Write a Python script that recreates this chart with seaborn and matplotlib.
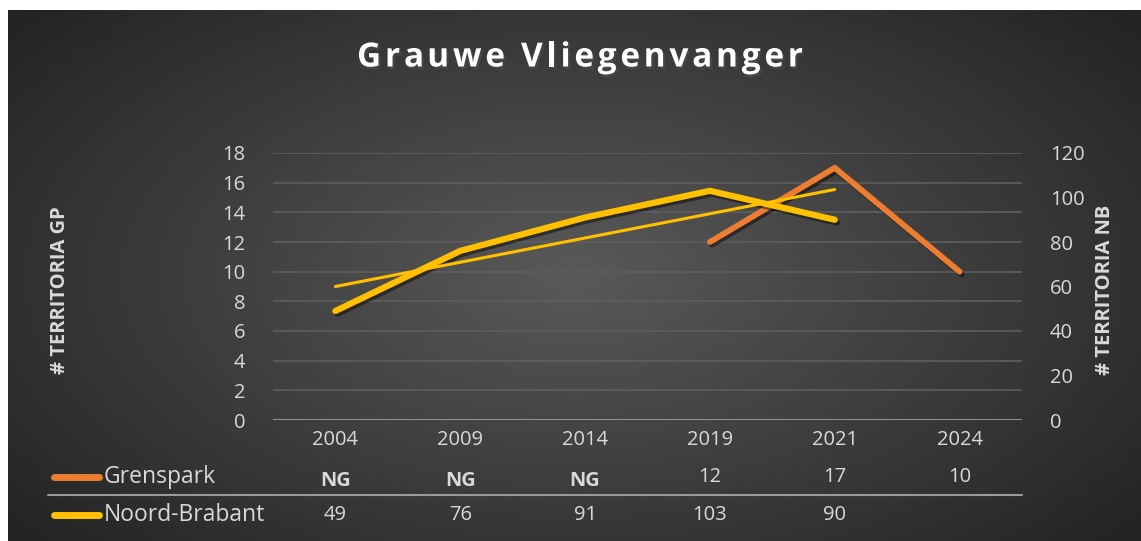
import numpy as np
import pandas as pd
import matplotlib
matplotlib.use("Agg")
import matplotlib.pyplot as plt
import matplotlib.patheffects as pe
import seaborn as sns

years = ["2004", "2009", "2014", "2019", "2021", "2024"]
grenspark = [np.nan, np.nan, np.nan, 12, 17, 10]
noord_brabant = [49, 76, 91, 103, 90, np.nan]
grenspark_table = ["NG", "NG", "NG", "12", "17", "10"]
nb_table = ["49", "76", "91", "103", "90", ""]

ORANGE = "#ED7D31"
YELLOW = "#FFC000"
TXT = "#d9d9d9"
FS = 14.5

sns.set_theme(style="dark")
plt.rcParams["font.family"] = ["Open Sans", "DejaVu Sans"]

W, H = 1141, 541
fig = plt.figure(figsize=(W / 100, H / 100), dpi=100)
fig.patch.set_facecolor("white")

# radial gradient background
bg = fig.add_axes([8 / W, 0, 1 - 8 / W, 1 - 10 / H])
bg.set_axis_off()
yy, xx = np.mgrid[-1:1:300j, -1:1:600j]
r = np.sqrt(xx ** 2 + (yy / 1.15) ** 2)
shade = 0.35 - 0.21 * np.clip(r, 0, 1.3) / 1.3
bg.imshow(np.dstack([shade] * 3), aspect="auto", extent=[0, 1, 0, 1],
          interpolation="bicubic")

df = pd.DataFrame({"x": np.arange(len(years)), "gp": grenspark, "nb": noord_brabant})

L, R, T, B = 273, 1022, 153, 420
ax = fig.add_axes([L / W, 1 - B / H, (R - L) / W, (B - T) / H])
ax.set_facecolor("none")
ax2 = ax.twinx()
ax2.set_facecolor("none")

shadow = [pe.SimpleLineShadow(offset=(1.5, -2), shadow_color="black", alpha=0.45),
          pe.Normal()]

sns.lineplot(data=df, x="x", y="gp", ax=ax, color=ORANGE, linewidth=4.2,
             solid_capstyle="round", path_effects=shadow, zorder=3)
sns.lineplot(data=df, x="x", y="nb", ax=ax2, color=YELLOW, linewidth=4.5,
             solid_capstyle="round", path_effects=shadow, zorder=4)

# linear trendline for Noord-Brabant
nb = df.dropna(subset=["nb"])
coef = np.polyfit(nb["x"], nb["nb"], 1)
tx = np.array([nb["x"].min(), nb["x"].max()])
ax2.plot(tx, np.polyval(coef, tx), color=YELLOW, linewidth=2.2,
         solid_capstyle="round", zorder=5)

ax.set_xlim(-0.5, len(years) - 0.5)
ax.set_ylim(0, 18)
ax2.set_ylim(0, 120)
ax.set_yticks(range(0, 19, 2))
ax2.set_yticks(range(0, 121, 20))
ax.set_xticks(range(len(years)))
ax.set_xticklabels(years)
ax.grid(axis="y", color="#5e5e5e", linewidth=1.2)
ax.grid(axis="x", visible=False)
ax2.grid(False)
ax.axhline(0, color="#9a9a9a", linewidth=2, zorder=2)
for a in (ax, ax2):
    for s in a.spines.values():
        s.set_visible(False)
    a.tick_params(length=0, colors=TXT, labelsize=FS)
    a.set_xlabel("")
    a.set_ylabel("")
ax.tick_params(axis="y", pad=20)
ax2.tick_params(axis="y", pad=20)
ax.tick_params(axis="x", pad=7)

fig.text(60 / W, 1 - 290 / H, "# TERRITORIA GP", rotation=90, color=TXT,
         fontsize=FS, fontweight="bold", ha="center", va="center")
fig.text(1105 / W, 1 - 290 / H, "# TERRITORIA NB", rotation=90, color=TXT,
         fontsize=FS, fontweight="bold", ha="center", va="center")

# title with letter spacing: place glyphs one by one
title = "Grauwe Vliegenvanger"
TFS = 24
renderer = fig.canvas.get_renderer()

def ink_width(s):
    t = fig.text(0, 0, s, fontsize=TFS, fontweight="bold")
    w = t.get_window_extent(renderer).width
    t.remove()
    return w

bar = ink_width("|")
full = ink_width(title)
gap = max(0.0, (446 - full) / (len(title) - 1))
start = 0.5 * (357 + 803) - (full + gap * (len(title) - 1)) / 2
for i, ch in enumerate(title):
    if ch == " ":
        continue
    off = (ink_width(title[:i] + "|") - bar) if i > 0 else 0
    fig.text((start + off + gap * i) / W, 1 - 58 / H, ch, color="white", fontsize=TFS,
             fontweight="bold", ha="left", va="center",
             path_effects=[pe.withSimplePatchShadow(offset=(1.5, -2), alpha=0.6)])

# data table below the axis
def xfig(i):
    return (L + (i + 0.5) * (R - L) / len(years)) / W

rows = [(477, grenspark_table, "Grenspark", ORANGE), (515, nb_table, "Noord-Brabant", YELLOW)]
for ypix, vals, name, col in rows:
    yf = 1 - ypix / H
    fig.add_artist(plt.Line2D([54 / W, 99 / W], [yf, yf], color=col, linewidth=5,
                              solid_capstyle="round"))
    fig.text(104 / W, yf, name, color=TXT, fontsize=16.5, ha="left", va="center")
    for i, v in enumerate(vals):
        bold = v == "NG"
        fig.text(xfig(i), yf - (4 / H if bold else 0), v, color=TXT, fontsize=FS,
                 fontweight="bold" if bold else "normal", ha="center", va="center")
fig.add_artist(plt.Line2D([48 / W, R / W], [1 - 495 / H] * 2, color="#9a9a9a", linewidth=1.5))

fig.savefig("out.png", dpi=100, facecolor=fig.get_facecolor())
